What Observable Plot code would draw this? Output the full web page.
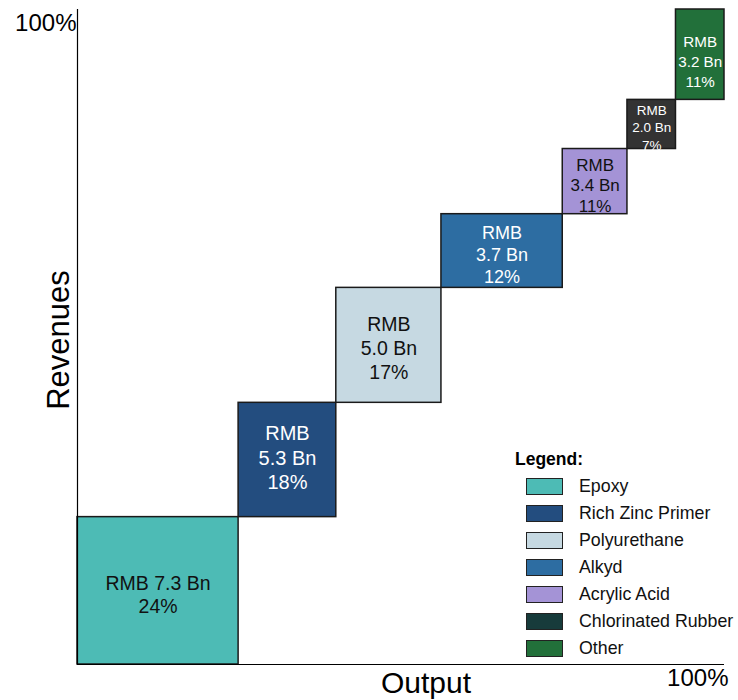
<!DOCTYPE html>
<html><head><meta charset="utf-8">
<script src="https://cdn.jsdelivr.net/npm/d3@7"></script>
<script src="https://cdn.jsdelivr.net/npm/@observablehq/plot@0.6"></script>
<style>
body{margin:0;background:#fff;font-family:"Liberation Sans",Arial,sans-serif;}
#wrap{position:relative;width:738px;height:700px;}
#wrap svg{position:absolute;left:0;top:0;}
.lg-title{position:absolute;left:515px;top:449px;height:20px;line-height:20px;font-size:17.5px;font-weight:bold;color:#000;}
.lg-row{position:absolute;left:526px;height:17px;display:flex;align-items:center;font-size:17.8px;color:#111;white-space:nowrap;}
.lg-sw{width:37px;height:17px;box-sizing:border-box;border:1.5px solid #222;margin-right:16px;}
</style></head><body><div id="wrap"></div>
<script>
// ---- data ----
const categories = ["Epoxy","Rich Zinc Primer","Polyurethane","Alkyd","Acrylic Acid","Chlorinated Rubber","Other"];
const outputShare = [24.9, 15.1, 16.25, 18.75, 10.0, 7.5, 7.5];      // block width (% of output)
const revenueShare = [22.5, 17.45, 17.55, 11.25, 9.95, 7.5, 13.8];   // block height (% of revenues)
const revenueBn = ["7.3","5.3","5.0","3.7","3.4","2.0","3.2"];
const revenuePct = [24, 18, 17, 12, 11, 7, 11];
const axisTicks = [100];

// ---- styles ----
const blockColor = {"Epoxy":"#4dbbb5","Rich Zinc Primer":"#234d7f","Polyurethane":"#c6d9e2","Alkyd":"#2d6da2","Acrylic Acid":"#a493d6","Chlorinated Rubber":"#333333","Other":"#22703a"};
const legendColor = {"Epoxy":"#4dbbb5","Rich Zinc Primer":"#234d7f","Polyurethane":"#c6d9e2","Alkyd":"#2d6da2","Acrylic Acid":"#a493d6","Chlorinated Rubber":"#173b3b","Other":"#22703a"};
const labelColor = {"Epoxy":"#111","Rich Zinc Primer":"#fff","Polyurethane":"#111","Alkyd":"#fff","Acrylic Acid":"#111","Chlorinated Rubber":"#fff","Other":"#fff"};
const labelSize = {"Epoxy":19.5,"Rich Zinc Primer":20,"Polyurethane":19.5,"Alkyd":18,"Acrylic Acid":17,"Chlorinated Rubber":13.5,"Other":15.2};
const labelShift = {"Epoxy":3,"Rich Zinc Primer":-3,"Polyurethane":2,"Alkyd":3,"Acrylic Acid":3,"Chlorinated Rubber":2,"Other":6};

let cx = 0, cy = 0;
const blocks = categories.map((name, i) => {
  const b = {name, x1: cx, x2: cx + outputShare[i], y1: cy, y2: cy + revenueShare[i],
    label: outputShare[i] > 20 ? `RMB ${revenueBn[i]} Bn\n${revenuePct[i]}%` : `RMB\n${revenueBn[i]} Bn\n${revenuePct[i]}%`};
  cx = b.x2; cy = b.y2;
  return b;
});

const font = '"Liberation Sans", Arial, sans-serif';
const labelMark = (filter, lh) => Plot.text(blocks.filter(filter), {
  x: d => (d.x1 + d.x2) / 2, y: d => (d.y1 + d.y2) / 2, text: "label",
  fill: d => labelColor[d.name], fontSize: d => labelSize[d.name], lineHeight: lh,
  dy: 0, transform: null
});
const chart = Plot.plot({
  width: 738, height: 700,
  marginLeft: 77, marginRight: 14, marginTop: 9, marginBottom: 36,
  x: {domain: [0, 100], axis: null, label: null},
  y: {domain: [0, 100], axis: null, label: null},
  color: {type: "identity"},
  style: {fontFamily: font, background: "transparent", color: "#000"},
  marks: [
    Plot.rect(blocks, {x1: "x1", x2: "x2", y1: "y1", y2: "y2", fill: d => blockColor[d.name], stroke: "#1a1a1a", strokeWidth: 1.5}),
    ...blocks.map(b => Plot.text([b], {
      x: d => (d.x1 + d.x2) / 2, y: d => (d.y1 + d.y2) / 2, text: "label",
      fill: labelColor[b.name], fontSize: labelSize[b.name],
      lineHeight: b.name === "Other" || b.name === "Chlorinated Rubber" ? 1.3 : 1.22,
      dy: labelShift[b.name]
    })),
    Plot.ruleX([0], {stroke: "#000", strokeWidth: 1.2}),
    Plot.ruleY([0], {stroke: "#000", strokeWidth: 1.2}),
    Plot.axisY(axisTicks, {tickSize: 0, tickPadding: 1, tickFormat: d => d + "%", fontSize: 24, dy: 14, label: null, fill: "#000"}),
    Plot.axisX(axisTicks, {tickSize: 0, tickPadding: 4, tickFormat: d => d + "%", fontSize: 24, textAnchor: "end", dx: 4, label: null, fill: "#000"}),
    Plot.text(["Revenues"], {frameAnchor: "left", textAnchor: "middle", lineAnchor: "middle", rotate: -90, fontSize: 31, dx: -18.5, dy: 3, fill: "#000"}),
    Plot.text(["Output"], {frameAnchor: "bottom", textAnchor: "middle", lineAnchor: "middle", fontSize: 30, dx: 25, dy: 18.5, fill: "#000"})
  ]
});

const wrap = document.getElementById("wrap");
wrap.appendChild(chart);

const t = document.createElement("div");
t.className = "lg-title";
t.textContent = "Legend:";
wrap.appendChild(t);
categories.forEach((name, i) => {
  const row = document.createElement("div");
  row.className = "lg-row";
  row.style.top = (478 + 27 * i) + "px";
  const sw = document.createElement("div");
  sw.className = "lg-sw";
  sw.style.background = legendColor[name];
  const tx = document.createElement("span");
  tx.textContent = name;
  row.appendChild(sw); row.appendChild(tx);
  wrap.appendChild(row);
});
</script>
</body></html>
